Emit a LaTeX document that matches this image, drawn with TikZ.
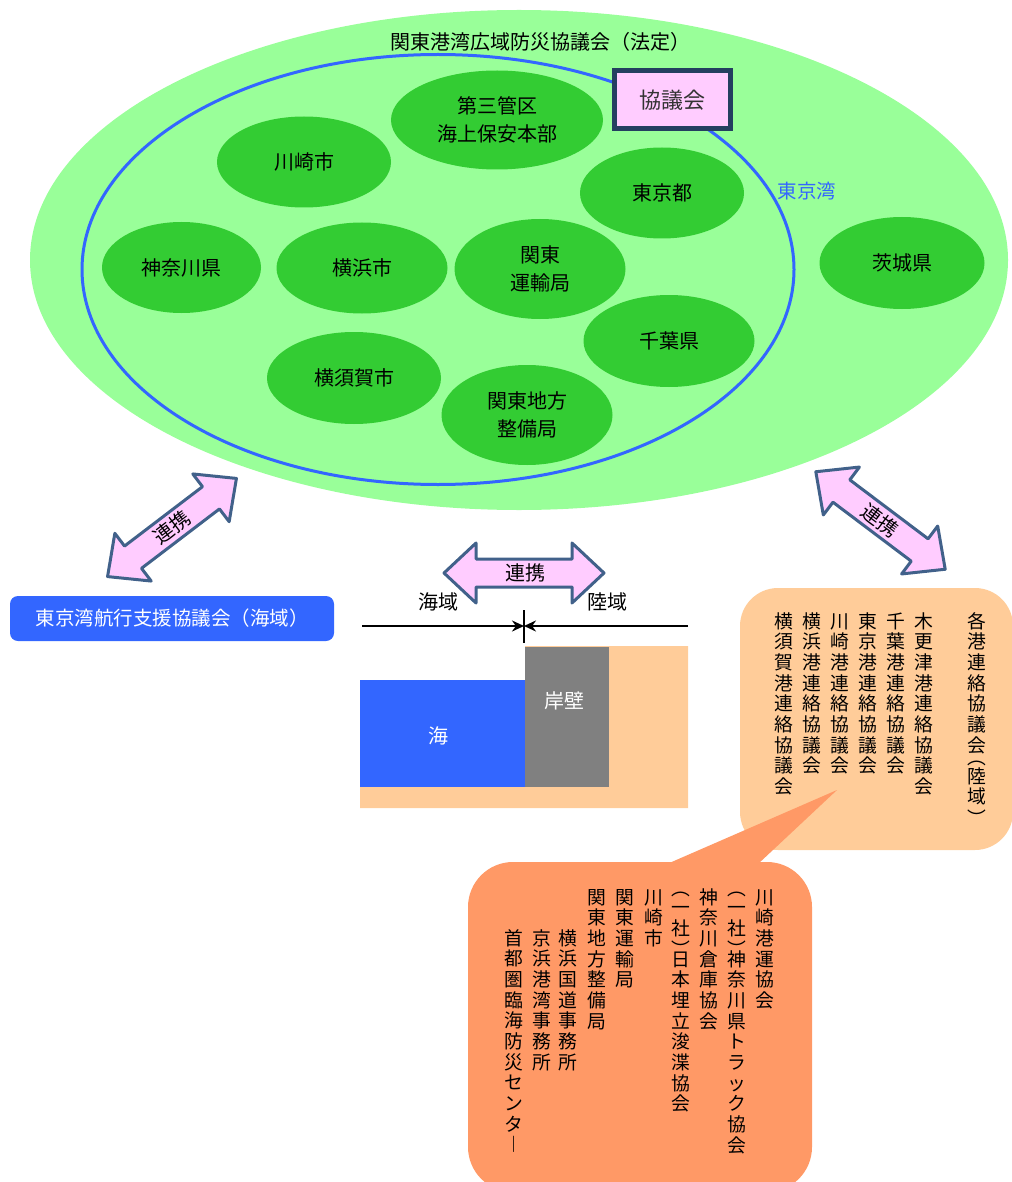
\documentclass[tikz,border=0pt]{standalone}
\usepackage{fontspec}
\setmainfont{Noto Sans CJK JP}
\usetikzlibrary{shapes.geometric,arrows.meta}
\definecolor{bigG}{HTML}{99FF99}
\definecolor{blueE}{HTML}{3366FF}
\definecolor{cG}{HTML}{33CC33}
\definecolor{pinkA}{HTML}{FFCCFF}
\definecolor{navyA}{HTML}{41618A}
\definecolor{navyB}{HTML}{243F60}
\definecolor{peachC}{HTML}{FFCC99}
\definecolor{orangeC}{HTML}{FF9966}
\definecolor{grayQ}{HTML}{808080}
\definecolor{txtG}{HTML}{333333}

\ExplSyntaxOn
\cs_new_protected:Npn \my_open:n #1
 { \hbox_to_wd:nn {1em} { \hss \rule[-0.12em]{0pt}{0.55em} #1 \hss } }
\cs_new_protected:Npn \my_close:n #1
 { \hbox_to_wd:nn {1em} { \hss \rule[-0.12em]{0pt}{0.55em} \raisebox{-0.5em}[0pt][0pt]{#1} \hss } }
\cs_new_protected:Npn \my_cell:n #1
 {
  \str_case:nnF {#1}
   {
    {︵} { \my_open:n {#1} }
    {︶} { \my_close:n {#1} }
   }
   { \hbox_to_wd:nn {1em} { \hss \rule[-0.2em]{0pt}{1.1em} #1 \hss } }
 }
\NewDocumentCommand \VT { m }
 { \vbox { \offinterlineskip \tl_map_function:nN {#1} \my_cell:n } }
\ExplSyntaxOff

\begin{document}
\begin{tikzpicture}[x=1pt,y=-1pt,
  circ/.style={ellipse, fill=cG, inner sep=0pt, align=center,
               font=\fontsize{20}{28}\selectfont},
  darrow/.style={fill=pinkA, draw=navyA, line width=3pt, line join=round},
  lbl/.style={inner sep=0pt, font=\fontsize{20}{22}\selectfont},
  vcol/.style={inner sep=0pt, anchor=north, font=\fontsize{18.8}{20}\selectfont}]
\useasboundingbox (0,0) rectangle (1011,1182);

% big ellipse and bay
\node[ellipse, fill=bigG, minimum width=978, minimum height=500, inner sep=0pt] (kanto) at (519,260) {};
\node[ellipse, draw=blueE, line width=3pt, minimum width=712, minimum height=430, inner sep=0pt] (bay) at (438,269.5) {};

% members
\node[circ, minimum width=212, minimum height=99] (c3) at (497,120) {第三管区\\海上保安本部};
\node[circ, minimum width=174, minimum height=91] (kawasaki) at (304,162) {川崎市};
\node[circ, minimum width=164, minimum height=91] (tokyo) at (662,193) {東京都};
\node[circ, minimum width=159, minimum height=91] (kanagawa) at (181.5,267.5) {神奈川県};
\node[circ, minimum width=171, minimum height=91] (yokohama) at (362,268) {横浜市};
\node[circ, minimum width=171, minimum height=100] (unyu) at (540,269) {関東\\運輸局};
\node[circ, minimum width=165, minimum height=92] (ibaraki) at (902,263) {茨城県};
\node[circ, minimum width=171, minimum height=92] (chiba) at (669,341) {千葉県};
\node[circ, minimum width=174, minimum height=92] (yokosuka) at (354,378) {横須賀市};
\node[circ, minimum width=171, minimum height=100] (seibi) at (527,415) {関東地方\\整備局};

\node[draw=navyB, line width=5pt, fill=pinkA, minimum width=116, minimum height=58, inner sep=0pt,
      text=txtG, font=\fontsize{22}{24}\selectfont] (kyogi) at (672.5,100) {協議会};
\node[lbl, text=blueE, font=\fontsize{19.5}{22}\selectfont] (bayname) at (807,191) {東京湾};
\node[lbl] (title) at (540,42) {関東港湾広域防災協議会（法定）};

% left sea council
\node[fill=blueE, rounded corners=8pt, minimum width=324, minimum height=45, inner sep=0pt,
      text=white, font=\fontsize{19.5}{22}\selectfont] (kaiiki) at (172,618.5) {東京湾航行支援協議会（海域）};

% arrows
\begin{scope}[shift={(172,527.5)}, rotate=37.3]
  \draw[darrow] (-81,0) -- (-49,-30) -- (-49,-14) -- (49,-14) -- (49,-30) -- (81,0)
     -- (49,30) -- (49,14) -- (-49,14) -- (-49,30) -- cycle;
  \node[lbl, rotate=37.3] (renkeiL) at (0,0) {連携};
\end{scope}
\begin{scope}[shift={(880.5,520.5)}, rotate=-37]
  \draw[darrow] (-81,0) -- (-49,-30) -- (-49,-14) -- (49,-14) -- (49,-30) -- (81,0)
     -- (49,30) -- (49,14) -- (-49,14) -- (-49,30) -- cycle;
  \node[lbl, rotate=-37] (renkeiR) at (0,0) {連携};
\end{scope}
\begin{scope}[shift={(524,573)}]
  \draw[darrow] (-80,0) -- (-48,-30) -- (-48,-14) -- (48,-14) -- (48,-30) -- (80,0)
     -- (48,30) -- (48,14) -- (-48,14) -- (-48,30) -- cycle;
  \node[lbl] (renkeiM) at (1,0) {連携};
\end{scope}

% sea / land section
\node[lbl] (kaiikiL) at (438,602) {海域};
\node[lbl] (rikuikiL) at (607,602) {陸域};
\coordinate (hl) at (362,626);
\coordinate (hr) at (688,626);
\coordinate (hm) at (524,626);
\coordinate (vt) at (524,610);
\coordinate (vb) at (524,643);
\draw[line width=2.5pt, -{Stealth[length=12pt,width=11pt]}] (hl) -- (hm);
\draw[line width=2.5pt, -{Stealth[length=12pt,width=11pt]}] (hr) -- (hm);
\draw[line width=2.5pt] (vt) -- (vb);

\fill[peachC] (360,787) -- (525,787) -- (525,646) -- (688,646) -- (688,808) -- (360,808) -- cycle;
\node[fill=grayQ, minimum width=84, minimum height=140, inner sep=0pt] (quay) at (567,717) {};
\node[fill=blueE, minimum width=165, minimum height=107, inner sep=0pt] (sea) at (442.5,733.5) {};
\node[lbl, text=white] (quayT) at (564,701) {岸壁};
\node[lbl, text=white] (seaT) at (438,736) {海};

% land councils box
\node[fill=peachC, rounded corners=38pt, minimum width=273, minimum height=262, inner sep=0pt] (rikuiki) at (876.5,719) {};
\fill[orangeC] (667,864) -- (837,790) -- (758,864) -- cycle;
\node[fill=orangeC, rounded corners=45pt, minimum width=344, minimum height=330, inner sep=0pt] (members) at (640,1027) {};

\node[vcol] (r1) at (977,611) {\VT{各港連絡協議会︵陸域︶}};
\node[vcol] (r2) at (924,611) {\VT{木更津港連絡協議会}};
\node[vcol] (r3) at (896,611) {\VT{千葉港連絡協議会}};
\node[vcol] (r4) at (868,611) {\VT{東京港連絡協議会}};
\node[vcol] (r5) at (840,611) {\VT{川崎港連絡協議会}};
\node[vcol] (r6) at (812,611) {\VT{横浜港連絡協議会}};
\node[vcol] (r7) at (784,611) {\VT{横須賀港連絡協議会}};

\node[vcol] (m1) at (765,887) {\VT{川崎港運協会}};
\node[vcol] (m2) at (737,887) {\VT{︵一社︶神奈川県トラック協会}};
\node[vcol] (m3) at (709,887) {\VT{神奈川倉庫協会}};
\node[vcol] (m4) at (681,887) {\VT{︵一社︶日本埋立浚渫協会}};
\node[vcol] (m5) at (654,887) {\VT{川崎市}};
\node[vcol] (m6) at (625,887) {\VT{関東運輸局}};
\node[vcol] (m7) at (597,887) {\VT{関東地方整備局}};
\node[vcol] (m8) at (568,928) {\VT{横浜国道事務所}};
\node[vcol] (m9) at (542,928) {\VT{京浜港湾事務所}};
\node[vcol] (m10) at (514,928) {\VT{首都圏臨海防災センタ︱}};
\end{tikzpicture}
\end{document}
